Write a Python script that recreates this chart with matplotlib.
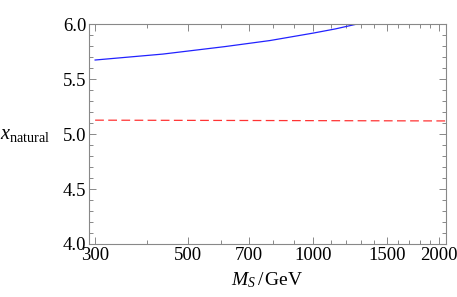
import matplotlib
matplotlib.use("Agg")
import matplotlib.pyplot as plt
from matplotlib.ticker import FixedLocator, FixedFormatter, MultipleLocator, NullFormatter

# blue curve (solid)
ms_blue = [300, 436, 614, 787, 1000, 1130, 1273]
x_blue = [5.673, 5.727, 5.795, 5.85, 5.918, 5.956, 6.0]

# red dashed line
ms_red = [300, 2080]
x_red = [5.126, 5.119]

xticks = [300, 500, 700, 1000, 1500, 2000]
xtick_labels = ["300", "500", "700", "1000", "1500", "2000"]
xminor = [400, 600, 800, 900, 1100, 1200, 1300, 1400, 1600, 1700, 1800, 1900]
yticks = [4.0, 4.5, 5.0, 5.5, 6.0]

plt.rcParams["font.family"] = ["Liberation Serif", "DejaVu Serif"]
plt.rcParams["mathtext.fontset"] = "custom"
plt.rcParams["mathtext.it"] = "Liberation Serif:italic"
plt.rcParams["mathtext.rm"] = "Liberation Serif"

fig = plt.figure(figsize=(4.57, 2.97), dpi=100)
ax = fig.add_axes([0.1947, 0.1785, 0.7813, 0.7405])

ax.plot(ms_blue, x_blue, color="#2222ff", lw=0.9)
ax.plot(ms_red, x_red, color="#ff3333", lw=0.9, dashes=(7, 3.5))

ax.set_xscale("log")
ax.set_xlim(290, 2080)
ax.set_ylim(4.0, 6.0)

ax.xaxis.set_major_locator(FixedLocator(xticks))
ax.xaxis.set_major_formatter(FixedFormatter(xtick_labels))
ax.xaxis.set_minor_locator(FixedLocator(xminor))
ax.xaxis.set_minor_formatter(NullFormatter())
ax.yaxis.set_major_locator(FixedLocator(yticks))
ax.yaxis.set_minor_locator(MultipleLocator(0.1))
ax.set_yticklabels(["4.0", "4.5", "5.0", "5.5", "6.0"])

for s in ax.spines.values():
    s.set_color("#888888")
    s.set_linewidth(0.8)
ax.tick_params(which="both", direction="in", top=True, right=True, color="#888888", width=0.7)
ax.tick_params(which="major", length=5, labelsize=13.5, pad=2)
ax.tick_params(which="minor", length=3)

ax.set_xlabel(r"$M_S\,/\,\mathrm{GeV}$", fontsize=14, labelpad=5)
ax.set_ylabel(r"$x_{\mathrm{natural}}$", fontsize=14.5, rotation=0, labelpad=27, va="center")

fig.savefig("out.png", dpi=100)
